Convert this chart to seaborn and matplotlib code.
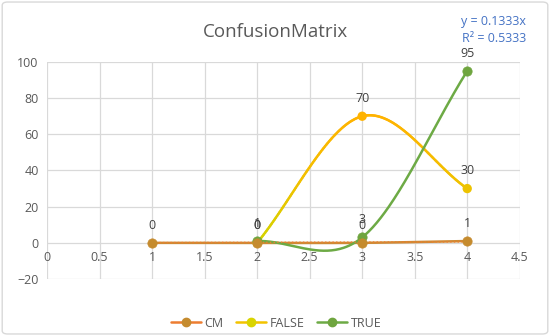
import numpy as np
import pandas as pd
import matplotlib
matplotlib.use("Agg")
import matplotlib.pyplot as plt
import seaborn as sns
from matplotlib.patches import FancyBboxPatch
from matplotlib.lines import Line2D
from matplotlib.collections import LineCollection
from matplotlib.colors import LinearSegmentedColormap, Normalize

# ---- data ----
x_cm = [1, 2, 3, 4]
cm = [0, 0, 0, 1]
x_false = [2, 3, 4]
false_vals = [0, 70, 30]
x_true = [2, 3, 4]
true_vals = [1, 3, 95]
x_ticks = [0, 0.5, 1, 1.5, 2, 2.5, 3, 3.5, 4, 4.5]
y_ticks = [-20, 0, 20, 40, 60, 80, 100]
title = "ConfusionMatrix"
trend_slope = 0.1333
trend_text = "y = 0.1333x\nR² = 0.5333"

sns.set_theme(style="white")
plt.rcParams['font.family'] = ['Open Sans', 'DejaVu Sans']


def smooth(xs, ys, n=80):
    """Excel-like smoothing: cubic Bezier, Catmull-Rom interior tangents,
    one-third chord at the end points."""
    P = np.column_stack([xs, ys]).astype(float)
    m = len(P)
    out = []
    for i in range(m - 1):
        p1 = P[i]
        p2 = P[i + 1]
        if i == 0:
            c1 = p1 + (p2 - p1) / 3.0
        else:
            c1 = p1 + (p2 - P[i - 1]) / 6.0
        if i + 2 > m - 1:
            c2 = p2 - (p2 - p1) / 3.0
        else:
            c2 = p2 - (P[i + 2] - p1) / 6.0
        t = np.linspace(0, 1, n)[:, None]
        seg = ((1 - t) ** 3) * p1 + 3 * ((1 - t) ** 2) * t * c1 + 3 * (1 - t) * t ** 2 * c2 + t ** 3 * p2
        out.append(seg if i == 0 else seg[1:])
    arr = np.vstack(out)
    return arr[:, 0], arr[:, 1]


fig = plt.figure(figsize=(5.5, 3.36), dpi=100)
fig.patch.set_facecolor("white")
border = FancyBboxPatch((0.004, 0.006), 0.992, 0.988, boxstyle="round,pad=0,rounding_size=0.01",
                        transform=fig.transFigure, facecolor="none", edgecolor="#D9D9D9",
                        lw=1.0, zorder=-1)
fig.patches.append(border)

ax = fig.add_axes([0.0855, 0.1696, 0.8595, 0.646])
ax.set_facecolor("white")

cm_line, cm_mark = "#CF8A34", "#C58B2E"
true_line, true_mark = "#6DAA45", "#6FA53F"
false_cmap = LinearSegmentedColormap.from_list("fgrad", ["#D2D400", "#F2C000", "#FFB300"])
false_norm = Normalize(vmin=0, vmax=max(false_vals))

# CM
sx, sy = smooth(x_cm, cm)
sns.lineplot(data=pd.DataFrame({"x": sx, "y": sy}), x="x", y="y", ax=ax, color=cm_line,
             lw=1.8, sort=False, estimator=None, zorder=3)
sns.scatterplot(data=pd.DataFrame({"x": x_cm, "y": cm}), x="x", y="y", ax=ax, color=cm_mark,
                s=45, edgecolor=cm_mark, linewidth=0.5, zorder=4.2)

# FALSE (gradient line)
sx, sy = smooth(x_false, false_vals)
pts = np.column_stack([sx, sy]).reshape(-1, 1, 2)
segs = np.concatenate([pts[:-1], pts[1:]], axis=1)
lc = LineCollection(segs, cmap=false_cmap, norm=false_norm, lw=1.8, zorder=3,
                    capstyle="round")
lc.set_array((sy[:-1] + sy[1:]) / 2)
ax.add_collection(lc)
dff = pd.DataFrame({"x": x_false, "y": false_vals})
sns.scatterplot(data=dff, x="x", y="y", ax=ax, hue="y", palette=false_cmap, hue_norm=false_norm,
                s=45, linewidth=0, legend=False, zorder=4)

# TRUE
sx, sy = smooth(x_true, true_vals)
sns.lineplot(data=pd.DataFrame({"x": sx, "y": sy}), x="x", y="y", ax=ax, color=true_line,
             lw=1.8, sort=False, estimator=None, zorder=3.1)
sns.scatterplot(data=pd.DataFrame({"x": x_true, "y": true_vals}), x="x", y="y", ax=ax,
                color=true_mark, s=45, edgecolor=true_mark, linewidth=0.5, zorder=4.1)

# data labels
for xs, ys in [(x_cm, cm), (x_false, false_vals), (x_true, true_vals)]:
    for xv, yv in zip(xs, ys):
        ax.annotate(f"{yv}", (xv, yv), xytext=(0, 8), textcoords="offset points",
                    ha="center", va="bottom", fontsize=9, color="#404040", zorder=5)

# linear trendline through origin for CM
tx = np.array([x_cm[0], x_cm[-1]], dtype=float)
ax.plot(tx, trend_slope * tx, color="#ED7D31", lw=1.0, ls=":", zorder=3.5)

ax.set_xlim(0, 4.5)
ax.set_ylim(-20, 100)
ax.set_xticks(x_ticks)
ax.set_yticks(y_ticks)
ax.grid(True, color="#D9D9D9", lw=0.9)
ax.set_axisbelow(True)
for s in ax.spines.values():
    s.set_visible(False)
ax.tick_params(axis="both", labelsize=9, colors="#595959", length=0, pad=6)
ax.set_xlabel("")
ax.set_ylabel("")

# x tick labels sit just under the zero line, like Excel
ax.set_xticklabels([])
for v in x_ticks:
    ax.annotate(f"{v:g}", (v, 0), xytext=(0, -6), textcoords="offset points",
                ha="center", va="top", fontsize=9, color="#595959")

fig.text(0.5, 0.905, title, ha="center", va="center", fontsize=13.5, color="#595959")
fig.text(0.957, 0.91, trend_text, ha="right", va="center", fontsize=9, color="#4472C4",
         linespacing=1.4)

handles = [
    Line2D([0], [0], color="#ED7D31", lw=1.8, marker="o", markersize=6,
           markerfacecolor=cm_mark, markeredgecolor=cm_mark),
    Line2D([0], [0], color="#F2C300", lw=1.8, marker="o", markersize=6,
           markerfacecolor="#D9D400", markeredgecolor="#D9D400"),
    Line2D([0], [0], color=true_line, lw=1.8, marker="o", markersize=6,
           markerfacecolor=true_mark, markeredgecolor=true_mark),
]
labels = ["CM", "FALSE", "TRUE"]
fig.legend(handles, labels, loc="center", bbox_to_anchor=(0.502, 0.038), ncol=3,
           frameon=False, fontsize=9, handlelength=2.4, columnspacing=1.0, handletextpad=0.3,
           labelcolor="#595959")

fig.savefig("out.png", dpi=100, facecolor="white")
